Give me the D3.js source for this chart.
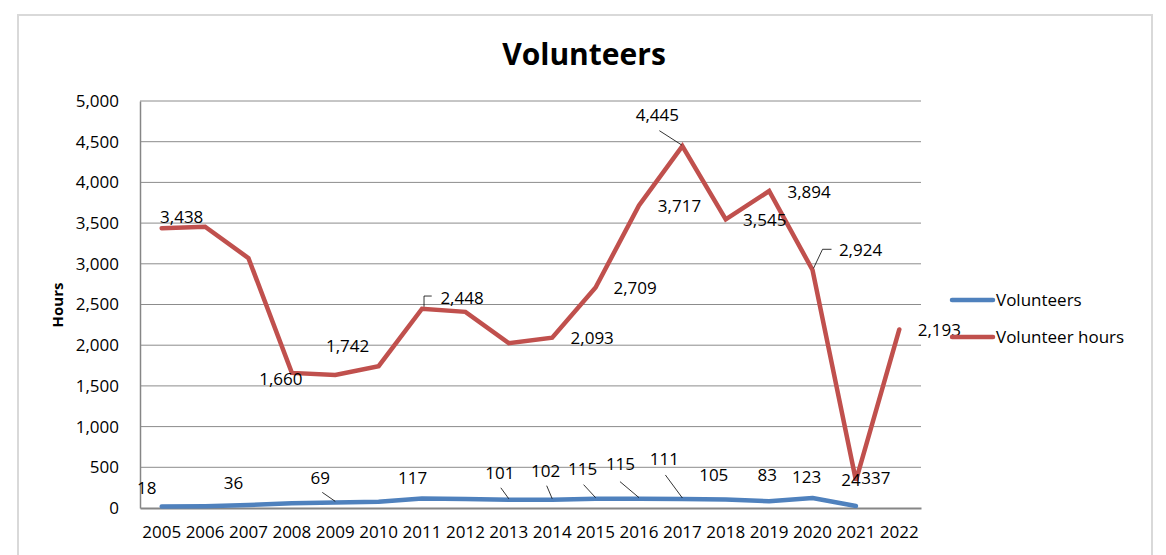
<!DOCTYPE html>
<html>
<head>
<meta charset="utf-8">
<script src="https://cdn.jsdelivr.net/npm/d3@7"></script>
<style>
  html, body { margin: 0; padding: 0; background: #fff; }
  svg { display: block; }
  text { font-family: "Open Sans", "Liberation Sans", sans-serif; fill: #000; }
</style>
</head>
<body>
<svg id="chart" width="1166" height="555"></svg>
<script>
// ---- Data ----
const years = ["2005","2006","2007","2008","2009","2010","2011","2012","2013","2014","2015","2016","2017","2018","2019","2020","2021","2022"];
const volunteers = [18, 22, 36, 58, 69, 76, 117, 110, 101, 102, 115, 115, 111, 105, 83, 123, 24, null];
const volunteerHours = [3438, 3455, 3070, 1660, 1635, 1742, 2448, 2410, 2025, 2093, 2709, 3717, 4445, 3545, 3894, 2924, 337, 2193];
const volunteersLabelled = [true, false, true, false, true, false, true, false, true, true, true, true, true, true, true, true, true, false];
const hoursLabelled = [true, false, false, true, false, true, true, false, false, true, true, true, true, true, true, true, true, true];
const yTicks = [0, 500, 1000, 1500, 2000, 2500, 3000, 3500, 4000, 4500, 5000];
const seriesNames = ["Volunteers", "Volunteer hours"];

// ---- Label layout (offsets from the data point, in px) ----
const volLabelOffsets = [[-15,-12.5],null,[-15,-16],null,[-15,-18],null,[-9.5,-14.5],null,[-9,-21],[-6.5,-23],[-13,-24],[-18.5,-29],[-18,-33.5],[-12,-18],[-2,-20],[-6,-15],[-5,-20],null];
const volLeaders = {4:[[-13,-10],[0,-1]], 8:[[-8,-12],[0,-1]], 9:[[-5.5,-14],[0,-1]], 10:[[-12,-14],[0,-1]], 11:[[-19,-17],[0,-1]], 12:[[-17,-24],[0,-1]]};
const hrsLabelOffsets = [[20,-5],null,null,[-11,12],null,[-31,-14.5],[40,-5],null,null,[40,6],[39.5,6.5],[40.5,7],[-25,-25.5],[39,7],[40,7],[48,-14],[20,3.5],[40,6.5]];
const hrsLeaders = {6:[[9.7,-12.7],[2,-12.7],[2,-2]], 12:[[-23,-15.5],[-0.7,-1.2]], 15:[[19,-20.7],[10,-20.7],[1,-1.7]]};

const colors = { vol: "#4f81bd", hrs: "#c0504d" };

const svg = d3.select("#chart");

// chart border
svg.append("rect").attr("x", 18).attr("y", 15).attr("width", 1134).attr("height", 560)
  .attr("fill", "#fff").attr("stroke", "#d9d9d9").attr("stroke-width", 2);

const plot = { left: 140, right: 921, top: 101, bottom: 508 };

const x = d3.scaleBand().domain(years).range([plot.left, plot.right]);
const y = d3.scaleLinear().domain([0, 5000]).range([plot.bottom, plot.top]);
const cx = d => x(d) + x.bandwidth() / 2;

// gridlines
svg.append("g").selectAll("line").data(yTicks.filter(t => t > 0)).join("line")
  .attr("x1", plot.left).attr("x2", plot.right)
  .attr("y1", d => y(d)).attr("y2", d => y(d))
  .attr("stroke", "#8c8c8c").attr("stroke-width", 1);

// y axis
const yAxis = svg.append("g").attr("transform", `translate(${plot.left},0)`)
  .call(d3.axisLeft(y).tickValues(yTicks).tickFormat(d3.format(",")).tickSize(0).tickPadding(21));
yAxis.select(".domain").attr("stroke", "#868686").attr("stroke-width", 1.5);
yAxis.selectAll("text").style("font-size", "17px").attr("fill", "#000");

// x axis
const xAxis = svg.append("g").attr("transform", `translate(0,${plot.bottom})`)
  .call(d3.axisBottom(x).tickSize(0).tickPadding(18));
xAxis.select(".domain").attr("stroke", "#868686").attr("stroke-width", 2);
xAxis.selectAll("text").style("font-size", "17px").attr("fill", "#000");

// lines
const lineGen = d3.line().defined(d => d[1] != null).x(d => cx(d[0])).y(d => y(d[1]));
svg.append("path").datum(years.map((yr, i) => [yr, volunteers[i]]))
  .attr("d", lineGen).attr("fill", "none").attr("stroke", colors.vol)
  .attr("stroke-width", 4.5).attr("stroke-linejoin", "round").attr("stroke-linecap", "round");
svg.append("path").datum(years.map((yr, i) => [yr, volunteerHours[i]]))
  .attr("d", lineGen).attr("fill", "none").attr("stroke", colors.hrs)
  .attr("stroke-width", 4.5).attr("stroke-linejoin", "miter").attr("stroke-linecap", "round");

// data labels + leader lines
const fmt = d3.format(",");
function addLabels(values, labelled, offsets, leaders) {
  const g = svg.append("g");
  values.forEach((v, i) => {
    if (v == null || !labelled[i] || !offsets[i]) return;
    const px = cx(years[i]), py = y(v);
    if (leaders[i]) {
      g.append("polyline")
        .attr("points", leaders[i].map(p => [px + p[0], py + p[1]].join(",")).join(" "))
        .attr("fill", "none").attr("stroke", "#000").attr("stroke-width", 0.8);
    }
    g.append("text").attr("x", px + offsets[i][0]).attr("y", py + offsets[i][1])
      .attr("text-anchor", "middle").style("font-size", "17px").text(fmt(v));
  });
}
addLabels(volunteers, volunteersLabelled, volLabelOffsets, volLeaders);
addLabels(volunteerHours, hoursLabelled, hrsLabelOffsets, hrsLeaders);

// title
svg.append("text").attr("x", 584).attr("y", 65).attr("text-anchor", "middle")
  .style("font-size", "30px").style("font-weight", "bold").text("Volunteers");

// y axis title
svg.append("text").attr("transform", "translate(63,305) rotate(-90)").attr("text-anchor", "middle")
  .style("font-size", "15px").style("font-weight", "bold").text("Hours");

// legend
const legend = svg.append("g");
const legendRows = [{ name: seriesNames[0], color: colors.vol, y: 300 }, { name: seriesNames[1], color: colors.hrs, y: 337 }];
legendRows.forEach(r => {
  legend.append("line").attr("x1", 952).attr("x2", 993).attr("y1", r.y).attr("y2", r.y)
    .attr("stroke", r.color).attr("stroke-width", 4.5).attr("stroke-linecap", "round");
  legend.append("text").attr("x", 996).attr("y", r.y + 6).style("font-size", "17px").text(r.name);
});
</script>
</body>
</html>
